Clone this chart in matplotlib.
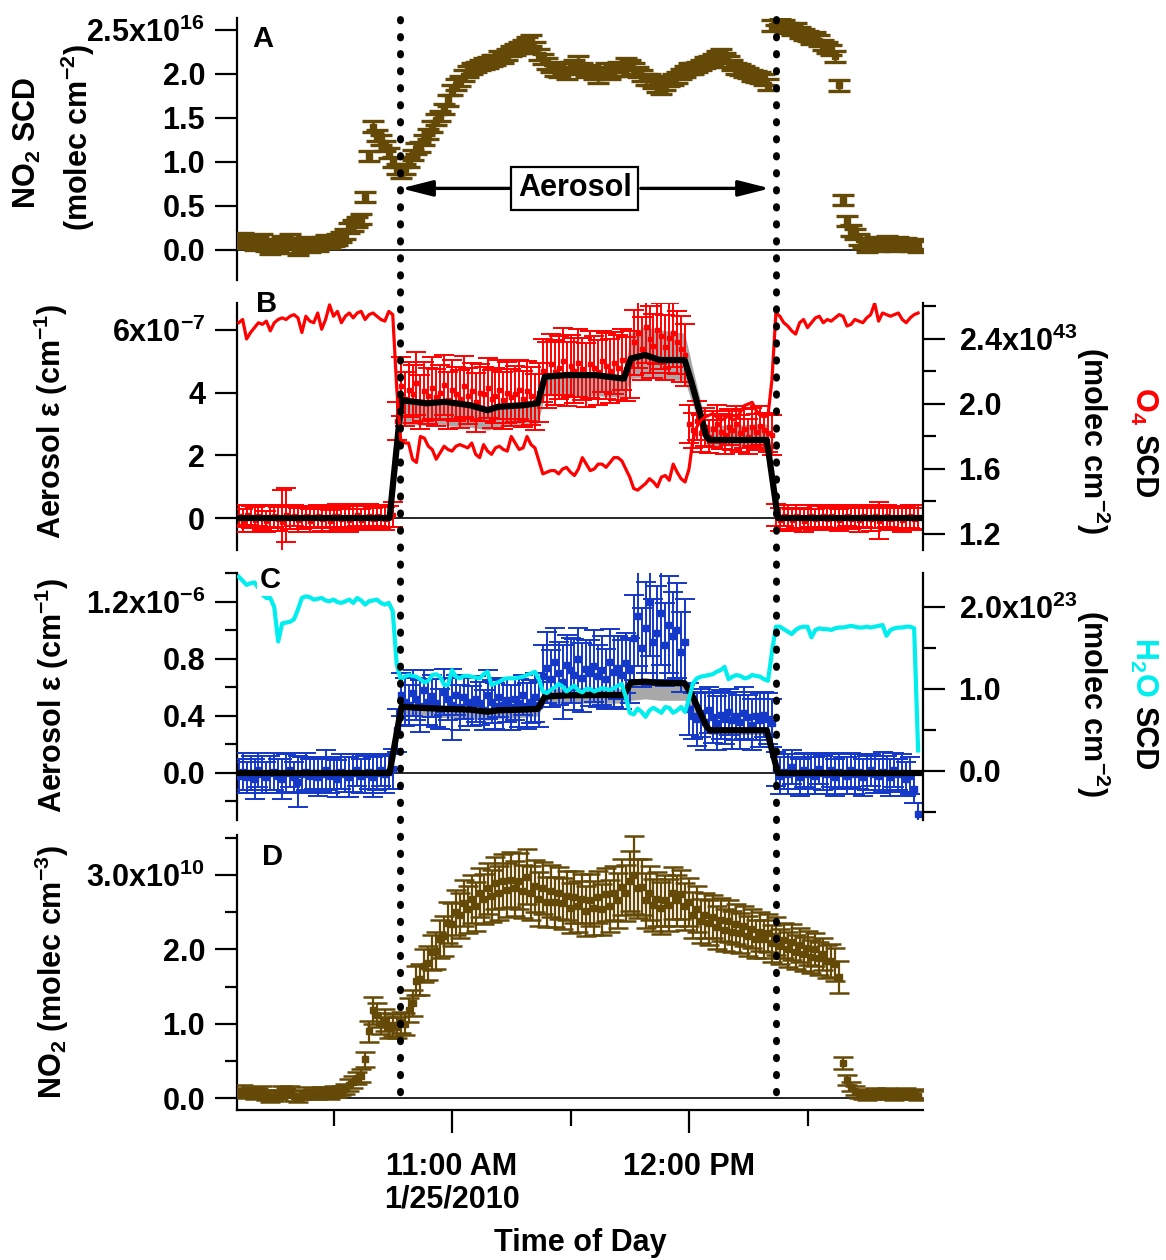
import numpy as np
import matplotlib
matplotlib.use("Agg")
import matplotlib.pyplot as plt
from matplotlib.lines import Line2D

plt.rcParams["font.family"] = ["Liberation Sans", "DejaVu Sans"]
plt.rcParams["font.weight"] = "bold"
plt.rcParams["mathtext.fontset"] = "custom"
plt.rcParams["mathtext.rm"] = "Liberation Sans:bold"
plt.rcParams["mathtext.it"] = "Liberation Sans:bold"
plt.rcParams["mathtext.bf"] = "Liberation Sans:bold"
plt.rcParams["mathtext.default"] = "rm"

# ---------------------------------------------------------------- data
# sample times: minutes after 10:00 on 1/25/2010 (1-minute cadence)
MINUTES = np.arange(6, 179)

# A: NO2 SCD, units of 1e14 molec cm-2 (=0.01 x 1e16)
NO2_SCD = [
    10, 13, 8, 11, 6, 9, 12, 5, 1, 3,
    6, 10, 8, 12, 3, 0, 6, 9, 4, 7,
    5, 9, 11, 8, 10, 12, 15, 18, 25, 28,
    32, 35, 60, 107, 140, 130, 125, 118, 110, 100,
    92, 88, 92, 100, 108, 115, 117, 125, 132, 140,
    148, 152, 160, 170, 182, 188, 192, 198, 203, 206,
    208, 210, 212, 213, 215, 216, 220, 218, 222, 226,
    228, 230, 233, 236, 238, 230, 222, 217, 212, 208,
    204, 202, 206, 200, 208, 210, 214, 206, 202, 204,
    200, 196, 202, 206, 200, 204, 208, 204, 212, 210,
    206, 202, 198, 194, 194, 190, 186, 183, 188, 192,
    194, 196, 200, 203, 206, 206, 208, 210, 213, 214,
    217, 220, 222, 218, 214, 210, 206, 205, 203, 201,
    198, 197, 196, 194, 188, 255, 262, 258, 255, 252,
    250, 252, 247, 245, 243, 240, 242, 238, 233, 230,
    227, 220, 187, 57, 33, 22, 18, 12, 8, 4,
    6, 9, 5, 8, 10, 7, 5, 9, 6, 8,
    5, 7, 4]
NO2_SCD_ERR = 6

# B: aerosol extinction (red), units 1e-9 cm-1 (=0.01 x 1e-7)
AER_B = [
    5, -8, 10, 3, -5, 8, 0, -10, 4, 6,
    -3, -12, 10, 2, 8, -6, 0, 5, -8, 3,
    6, -4, 2, -10, 5, 8, -2, 3, -7, 4,
    10, -5, 2, 6, -3, 8, 4, -2, 5, 10,
    310, 420, 380, 410, 395, 430, 370, 405, 390, 415,
    385, 400, 425, 375, 410, 395, 380, 420, 390, 405,
    370, 400, 395, 415, 380, 390, 410, 375, 400, 385,
    395, 410, 380, 405, 390, 370, 400, 470, 455, 490,
    465, 480, 500, 460, 485, 470, 495, 475, 455, 490,
    480, 465, 500, 485, 470, 495, 480, 505, 475, 490,
    560, 590, 540, 610, 570, 550, 600, 580, 545, 575,
    590, 560, 540, 520, 300, 280, 310, 270, 290, 260,
    285, 300, 275, 265, 290, 280, 300, 270, 285, 260,
    290, 275, 295, 280, 270, 265, 10, -5, 8, 2,
    -6, 5, 0, -8, 3, 6, -4, 2, 7, -3,
    5, 0, -6, 4, 8, -2, 3, -5, 6, 1,
    -4, 5, -8, 2, 6, -3, 0, 4, -6, 3,
    5, -2, 2]
AER_B_ERR = [
    35, 38, 32, 36, 40, 34, 37, 33, 36, 35,
    38, 100, 85, 36, 34, 37, 35, 33, 38, 36,
    34, 37, 35, 36, 33, 38, 35, 34, 36, 37,
    35, 33, 36, 38, 34, 35, 37, 36, 34, 40,
    60, 95, 85, 88, 92, 100, 86, 94, 90, 98,
    92, 88, 96, 90, 94, 86, 92, 98, 90, 88,
    94, 90, 86, 96, 92, 88, 94, 90, 98, 92,
    90, 94, 88, 96, 92, 90, 94, 100, 105, 98,
    104, 100, 106, 102, 98, 104, 108, 100, 102, 106,
    100, 104, 98, 106, 102, 100, 104, 98, 102, 106,
    105, 110, 100, 115, 108, 102, 110, 106, 104, 112,
    108, 100, 105, 98, 60, 56, 62, 58, 60, 54,
    58, 62, 56, 60, 58, 62, 56, 58, 62, 56,
    60, 58, 62, 56, 60, 64, 35, 36, 34, 38,
    35, 37, 33, 36, 38, 35, 34, 37, 36, 35,
    38, 34, 36, 37, 35, 33, 36, 38, 35, 34,
    37, 36, 60, 35, 34, 36, 38, 35, 37, 34,
    36, 35, 38]
# B right: O4 SCD, units 1e41 (=0.01 x 1e43)
O4_SCD = [
    250, 252, 240, 244, 247, 250, 249, 251, 245, 250,
    252, 253, 252, 254, 255, 253, 244, 254, 251, 250,
    256, 246, 252, 261, 254, 257, 250, 254, 256, 253,
    256, 257, 252, 255, 256, 254, 252, 251, 257, 255,
    210, 178, 176, 176, 166, 164, 180, 179, 174, 172,
    166, 170, 174, 172, 171, 174, 175, 174, 173, 176,
    169, 167, 175, 171, 169, 173, 174, 172, 171, 180,
    176, 172, 173, 180, 175, 173, 165, 157, 158, 159,
    159, 157, 160, 161, 158, 156, 160, 167, 163, 159,
    160, 163, 163, 161, 164, 167, 167, 165, 160, 155,
    148, 147, 149, 151, 154, 152, 149, 155, 156, 153,
    163, 158, 154, 152, 160, 178, 186, 190, 192, 193,
    194, 192, 190, 191, 193, 190, 191, 195, 199, 200,
    201, 196, 193, 192, 193, 215, 256, 254, 250, 248,
    245, 243, 250, 252, 247, 250, 253, 254, 250, 252,
    251, 253, 255, 254, 248, 249, 252, 251, 250, 253,
    255, 262, 251, 256, 255, 254, 255, 256, 252, 250,
    253, 255, 256]

# C: aerosol extinction (blue), units 1e-8 cm-1 (=0.01 x 1e-6)
AER_C = [
    -2, 1, -3, 0, -4, 2, -1, -3, 0, 1,
    -2, -4, 0, 2, -3, -6, -1, 1, -2, 0,
    -3, -1, 2, -2, 0, -4, 1, -1, -3, 0,
    2, -2, -1, 1, -3, 0, 2, -1, 1, 3,
    30, 55, 50, 48, 56, 52, 47, 58, 50, 54,
    49, 45, 57, 52, 48, 55, 46, 53, 50, 47,
    52, 49, 44, 55, 50, 47, 53, 48, 51, 46,
    52, 49, 55, 47, 50, 53, 48, 68, 74, 66,
    78, 70, 64, 76, 72, 69, 80, 67, 73, 70,
    75, 68, 72, 66, 78, 71, 74, 69, 77, 72,
    95, 110, 88, 102, 120, 92, 98, 112, 90, 104,
    96, 100, 85, 92, 45, 40, 38, 42, 36, 44,
    39, 35, 41, 38, 43, 37, 40, 36, 42, 39,
    34, 40, 37, 41, 38, 35, 3, -2, 1, -1,
    4, 0, -3, 2, -1, 1, -2, 3, 0, -1,
    2, -3, 1, 0, -2, 2, -1, 1, -3, 0,
    2, -1, -2, 1, 0, -3, 2, -1, 0, -4,
    -2, -11, -29]
AER_C_ERR = [
    12, 13, 11, 12, 14, 12, 13, 11, 12, 13,
    12, 14, 13, 12, 11, 18, 12, 13, 12, 11,
    13, 12, 14, 12, 11, 13, 12, 12, 14, 13,
    11, 12, 13, 12, 14, 12, 11, 13, 12, 14,
    15, 15, 17, 14, 16, 15, 18, 14, 16, 15,
    17, 14, 16, 15, 25, 14, 16, 15, 17, 14,
    16, 15, 14, 17, 15, 16, 14, 18, 15, 16,
    15, 17, 14, 16, 15, 17, 16, 22, 25, 20,
    24, 22, 26, 21, 23, 25, 22, 24, 20, 23,
    25, 22, 24, 21, 23, 25, 22, 24, 21, 23,
    30, 35, 28, 32, 38, 30, 33, 36, 29, 34,
    31, 33, 28, 30, 18, 16, 19, 17, 20, 16,
    18, 19, 17, 18, 16, 20, 17, 19, 18, 16,
    18, 17, 19, 16, 18, 17, 12, 13, 12, 14,
    12, 11, 13, 12, 14, 12, 13, 11, 12, 14,
    12, 13, 12, 11, 13, 12, 14, 12, 13, 12,
    11, 13, 12, 14, 12, 13, 12, 11, 13, 12,
    13, 10, 8]
# C right: H2O SCD, units 1e21 (=0.01 x 1e23)
H2O_SCD = [
    237, 232, 227, 229, 230, 223, 215, 211, 211, 200,
    158, 180, 181, 182, 185, 197, 211, 213, 212, 209,
    210, 211, 208, 207, 209, 206, 205, 207, 209, 205,
    211, 208, 203, 207, 208, 209, 205, 203, 205, 195,
    130, 112, 115, 117, 116, 115, 112, 108, 110, 117,
    118, 115, 105, 105, 123, 115, 113, 116, 116, 115,
    114, 113, 118, 121, 105, 107, 109, 112, 113, 113,
    113, 114, 115, 117, 119, 121, 112, 97, 95, 99,
    102, 106, 103, 97, 101, 104, 98, 96, 100, 100,
    97, 99, 101, 100, 99, 101, 104, 106, 90, 71,
    69, 76, 72, 66, 74, 77, 74, 71, 78, 77,
    71, 74, 78, 72, 88, 107, 113, 115, 116, 117,
    118, 121, 123, 127, 112, 115, 117, 116, 113, 114,
    117, 116, 115, 112, 110, 145, 176, 176, 173, 170,
    167, 172, 175, 176, 176, 163, 172, 174, 173, 173,
    172, 174, 175, 175, 176, 177, 176, 175, 175, 176,
    175, 176, 177, 178, 165, 172, 174, 175, 175, 176,
    176, 174, 25]

# D: NO2 concentration, units 1e8 molec cm-3 (=0.01 x 1e10)
NO2_CONC = [
    8, 10, 6, 9, 5, 8, 10, 4, 0, 2,
    5, 9, 7, 10, 3, 0, 5, 8, 4, 6,
    4, 8, 9, 5, 9, 7, 10, 12, 18, 22,
    27, 30, 52, 90, 118, 112, 100, 105, 95, 98,
    95, 102, 100, 118, 128, 158, 160, 178, 182, 196,
    198, 214, 218, 236, 234, 250, 246, 262, 254, 268,
    258, 276, 268, 282, 272, 290, 276, 292, 280, 294,
    282, 292, 278, 298, 276, 286, 268, 282, 264, 278,
    264, 276, 262, 272, 256, 270, 258, 268, 252, 266,
    256, 270, 254, 274, 258, 276, 266, 284, 276, 292,
    300, 282, 284, 266, 276, 260, 268, 256, 266, 260,
    276, 266, 274, 258, 264, 246, 254, 238, 246, 236,
    244, 230, 240, 226, 238, 224, 234, 222, 232, 218,
    228, 214, 224, 214, 222, 208, 218, 204, 212, 200,
    210, 196, 206, 194, 202, 190, 200, 188, 194, 184,
    185, 180, 163, 47, 24, 15, 10, 6, 4, 3,
    5, 7, 4, 6, 8, 5, 3, 6, 4, 7,
    5, 6, 3]
NO2_CONC_ERR = [
    6, 7, 6, 6, 7, 6, 6, 7, 6, 6,
    6, 7, 6, 6, 7, 6, 6, 7, 6, 6,
    6, 7, 6, 6, 7, 6, 6, 7, 8, 8,
    8, 9, 10, 14, 18, 16, 14, 15, 14, 15,
    14, 14, 15, 16, 18, 20, 21, 22, 23, 24,
    25, 26, 27, 28, 29, 30, 30, 31, 32, 32,
    33, 33, 34, 34, 35, 35, 36, 36, 36, 37,
    37, 38, 36, 37, 36, 35, 36, 35, 34, 35,
    34, 35, 34, 33, 34, 35, 34, 33, 34, 35,
    36, 35, 34, 36, 35, 36, 37, 38, 38, 40,
    52, 40, 38, 37, 36, 35, 36, 35, 34, 35,
    35, 34, 33, 32, 32, 31, 31, 30, 30, 30,
    29, 29, 29, 28, 28, 28, 27, 27, 27, 27,
    26, 26, 26, 25, 25, 25, 25, 24, 24, 24,
    24, 23, 23, 23, 23, 22, 22, 22, 22, 22,
    22, 22, 22, 8, 7, 6, 6, 6, 6, 6,
    6, 6, 6, 6, 6, 6, 6, 6, 6, 6,
    6, 6, 6]

# retrieved aerosol profiles (black) with uncertainty band (grey)
FIT_MIN = [5.6, 44.2, 47.2, 53.6, 58.1, 64.5, 69.0, 71.7, 78.1, 81.7, 83.5, 89.0,
           96.2, 103.5, 105.3, 108.9, 112.6, 118.9, 120.7, 124.4, 125.2, 139.7, 142.5, 179.0]
FIT_B = [0, 0, 3.76, 3.66, 3.71, 3.60, 3.44, 3.55, 3.60, 3.66, 4.51, 4.56,
         4.56, 4.45, 5.09, 5.20, 5.04, 5.04, 4.30, 2.60, 2.49, 2.49, 0, 0]
BAND_B_LO = [0, 0, 3.0, 2.95, 2.95, 2.9, 2.8, 2.9, 2.95, 3.0, 3.9, 3.9,
             3.9, 3.85, 4.45, 4.5, 4.4, 4.4, 3.7, 2.35, 2.3, 2.3, 0, 0]
BAND_B_HI = [0, 0, 3.85, 3.75, 3.78, 3.7, 3.55, 3.65, 3.7, 3.75, 4.62, 4.65,
             4.65, 4.55, 5.9, 6.1, 6.0, 5.9, 4.9, 2.95, 2.95, 3.0, 0, 0]
FIT_C = [0, 0, 0.465, 0.455, 0.45, 0.445, 0.43, 0.44, 0.445, 0.45, 0.536, 0.545,
         0.547, 0.547, 0.635, 0.641, 0.632, 0.63, 0.55, 0.33, 0.30, 0.30, 0, 0]
BAND_C_LO = [0, 0, 0.40, 0.39, 0.39, 0.38, 0.37, 0.38, 0.39, 0.40, 0.49, 0.49,
             0.49, 0.49, 0.51, 0.52, 0.51, 0.51, 0.45, 0.29, 0.27, 0.27, 0, 0]
BAND_C_HI = [0, 0, 0.47, 0.46, 0.46, 0.45, 0.44, 0.45, 0.45, 0.46, 0.59, 0.60,
             0.60, 0.59, 0.64, 0.65, 0.64, 0.64, 0.56, 0.34, 0.31, 0.31, 0, 0]

AEROSOL_EDGES_MIN = [46.8, 142.1]

for _name, _arr in [("NO2_SCD", NO2_SCD), ("AER_B", AER_B), ("AER_B_ERR", AER_B_ERR),
                    ("O4_SCD", O4_SCD), ("AER_C", AER_C), ("AER_C_ERR", AER_C_ERR),
                    ("H2O_SCD", H2O_SCD), ("NO2_CONC", NO2_CONC), ("NO2_CONC_ERR", NO2_CONC_ERR)]:
    assert len(_arr) == len(MINUTES), (_name, len(_arr))

# ---------------------------------------------------------------- style
BROWN = "#654906"
RED = "#FF0000"
BLUE = "#1438C8"
CYAN = "#00EEEE"
GRAY = "#A8A8A8"
FS = 22
LW = 1.6

t = 10 + MINUTES / 60.0
t_fit = 10 + np.array(FIT_MIN) / 60.0
s = lambda a: np.asarray(a, dtype=float) / 100.0

W, H = 1166, 1260
fig = plt.figure(figsize=(W / 100, H / 100), dpi=100)

def add_ax(l, tp, r, b):
    return fig.add_axes([l / W, 1 - b / H, (r - l) / W, (b - tp) / H])

XL, XR = 237, 922.5
XLIM = (11 + (XL - 452) / 237.0, 11 + (XR - 452) / 237.0)

axA = add_ax(XL, 18, XR, 280)
axB = add_ax(XL, 303, XR, 550)
axC = add_ax(XL, 573, XR, 820)
axD = add_ax(XL, 835, XR, 1110)

def base(ax, ylim, major, labels, minor=None):
    for sp in ax.spines.values():
        sp.set_visible(False)
    ax.spines["left"].set_visible(True)
    ax.spines["left"].set_linewidth(LW)
    ax.set_xlim(*XLIM)
    ax.set_ylim(*ylim)
    ax.set_yticks(major)
    ax.set_yticklabels(labels)
    ax.set_yticks(minor if minor else [], minor=True)
    ax.tick_params(axis="y", which="major", direction="out", length=16, width=LW,
                   pad=7, labelsize=FS)
    ax.tick_params(axis="y", which="minor", direction="out", length=9, width=LW)
    ax.tick_params(axis="x", which="both", bottom=False, labelbottom=False)
    ax.patch.set_visible(False)
    ax.axhline(0, color="black", lw=1.2, zorder=1)

def right(ax, ylim, major, labels, minor=None):
    tw = ax.twinx()
    for sp in tw.spines.values():
        sp.set_visible(False)
    tw.spines["right"].set_visible(True)
    tw.spines["right"].set_linewidth(LW)
    tw.set_ylim(*ylim)
    tw.set_yticks(major)
    tw.set_yticklabels(labels)
    tw.set_yticks(minor if minor else [], minor=True)
    tw.tick_params(axis="y", which="major", direction="out", length=16, width=LW,
                   pad=10, labelsize=FS, left=False, right=True, labelleft=False, labelright=True)
    tw.tick_params(axis="y", which="minor", direction="out", length=9, width=LW,
                   left=False, right=True)
    tw.set_xlim(*XLIM)
    return tw

# ---- A
base(axA, (-0.341, 2.636), [0, 0.5, 1.0, 1.5, 2.0, 2.5],
     ["0.0", "0.5", "1.0", "1.5", "2.0", "2.5x10$^{16}$"])
axA.errorbar(t, s(NO2_SCD), yerr=NO2_SCD_ERR / 100.0, fmt="s", ms=4.5, color=BROWN,
             mec=BROWN, ecolor=BROWN, elinewidth=1.8, capsize=8, capthick=2.4, zorder=3)
ya = 0.70
axA.text(10 + 91.1 / 60, ya, "Aerosol", ha="center", va="center", fontsize=FS,
         fontweight="bold", zorder=6,
         bbox=dict(boxstyle="square,pad=0.22", fc="white", ec="black", lw=1.6))
arrow_kw = dict(arrowstyle="-|>,head_length=0.95,head_width=0.24", mutation_scale=20,
                lw=2.4, color="black", shrinkA=0, shrinkB=0)
axA.annotate("", xy=(10 + 47.1 / 60, ya), xytext=(10 + 74.6 / 60, ya), arrowprops=arrow_kw)
axA.annotate("", xy=(10 + 140.5 / 60, ya), xytext=(10 + 107.8 / 60, ya), arrowprops=arrow_kw)

# ---- B
base(axB, (-1.02, 6.86), [0, 2, 4, 6], ["0", "2", "4", "6x10$^{-7}$"])
axB.fill_between(t_fit, BAND_B_LO, BAND_B_HI, color=GRAY, lw=0, zorder=2)
axB.errorbar(t, s(AER_B), yerr=s(AER_B_ERR), fmt="s", ms=3.5, color=RED, mec=RED,
             ecolor=RED, elinewidth=1.4, capsize=7, capthick=1.4, zorder=3)
axB.plot(t_fit, FIT_B, color="black", lw=4.5, zorder=5, solid_joinstyle="round")
axB2 = right(axB, (1.1015, 2.6215), [1.2, 1.6, 2.0, 2.4],
             ["1.2", "1.6", "2.0", "2.4x10$^{43}$"], [1.4, 1.8, 2.2, 2.6])
axB2.plot(t, s(O4_SCD), color=RED, lw=2.3)

# ---- C
base(axC, (-0.33, 1.4035), [0, 0.4, 0.8, 1.2], ["0.0", "0.4", "0.8", "1.2x10$^{-6}$"],
     [-0.2, 0.2, 0.6, 1.0, 1.4])
axC.fill_between(t_fit, BAND_C_LO, BAND_C_HI, color=GRAY, lw=0, zorder=2)
axC.errorbar(t, s(AER_C), yerr=s(AER_C_ERR), fmt="s", ms=4, color=BLUE, mec=BLUE,
             ecolor=BLUE, elinewidth=1.4, capsize=7, capthick=1.4, zorder=3)
axC.plot(t_fit, FIT_C, color="black", lw=4.5, zorder=5, solid_joinstyle="round")
axC2 = right(axC, (-0.598, 2.415), [0, 1, 2], ["0.0", "1.0", "2.0x10$^{23}$"],
             [-0.5, 0.5, 1.5])
axC2.plot(t, s(H2O_SCD), color=CYAN, lw=3.0)

# ---- D
base(axD, (-0.1615, 3.54), [0, 1, 2, 3], ["0.0", "1.0", "2.0", "3.0x10$^{10}$"],
     [0.5, 1.5, 2.5, 3.5])
axD.errorbar(t, s(NO2_CONC), yerr=s(NO2_CONC_ERR), fmt="s", ms=4.5, color=BROWN,
             mec=BROWN, ecolor=BROWN, elinewidth=1.6, capsize=7.5, capthick=1.8, zorder=3)
axD.spines["bottom"].set_visible(True)
axD.spines["bottom"].set_linewidth(LW)
axD.set_xticks([11, 12])
axD.set_xticklabels(["11:00 AM\n1/25/2010", "12:00 PM"])
axD.set_xticks([10.5, 11.5, 12.5], minor=True)
axD.tick_params(axis="x", which="major", bottom=True, labelbottom=True, direction="out",
                length=16.5, width=LW, pad=14, labelsize=FS)
axD.tick_params(axis="x", which="minor", bottom=True, direction="out", length=11.5, width=LW)
for lbl in axD.get_xticklabels():
    lbl.set_linespacing(1.08)

# ---------------------------------------------------------------- texts
def ftxt(x, y, txt, **kw):
    kw.setdefault("fontsize", FS)
    kw.setdefault("fontweight", "bold")
    return fig.text(x / W, 1 - y / H, txt, **kw)

lab = dict(rotation=90, rotation_mode="anchor", ha="center", va="baseline")
ftxt(36, 143, "NO$_2$ SCD", **lab)
ftxt(88, 138, "(molec cm$^{-2}$)", **lab)
ftxt(61, 421, "Aerosol ε (cm$^{-1}$)", **lab)
ftxt(62, 695, "Aerosol ε (cm$^{-1}$)", **lab)
ftxt(62, 972, "NO$_2$ (molec cm$^{-3}$)", **lab)

rlab = dict(rotation=270, rotation_mode="anchor", ha="center", va="baseline")
ftxt(1083, 440, "(molec cm$^{-2}$)", **rlab)
ftxt(1083, 703, "(molec cm$^{-2}$)", **rlab)

renderer = fig.canvas.get_renderer()
def multicolor(x, y, parts, gap=9):
    for txt, col in parts:
        tt = ftxt(x, y, txt, color=col, rotation=270, rotation_mode="anchor",
                  ha="left", va="baseline")
        bb = tt.get_window_extent(renderer=renderer)
        y = H - bb.y0 + gap

multicolor(1135, 387, [("O$_4$", RED), ("SCD", "black")])
multicolor(1135, 637, [("H$_2$O", CYAN), ("SCD", "black")])

ftxt(263, 39, "A", ha="center", va="center", fontsize=21)
ftxt(267, 304, "B", ha="center", va="center", fontsize=21)
ftxt(270, 580, "C", ha="center", va="center", fontsize=21,
     bbox=dict(boxstyle="square,pad=0.08", fc="white", ec="none"))
ftxt(272, 857, "D", ha="center", va="center", fontsize=21)
ftxt(580, 1243, "Time of Day", ha="center", va="center")

# dotted lines marking the aerosol period
for m in AEROSOL_EDGES_MIN:
    tx = 10 + m / 60.0
    xpix = axA.transData.transform((tx, 0))[0]
    ybot = axD.transData.transform((tx, 0))[1]
    fig.add_artist(Line2D([xpix / W, xpix / W], [1 - 19 / H, ybot / H],
                          transform=fig.transFigure, color="black", lw=5.0,
                          linestyle=(0, (0.2, 2.25)), dash_capstyle="round", zorder=10))

fig.savefig("out.png", dpi=100)
